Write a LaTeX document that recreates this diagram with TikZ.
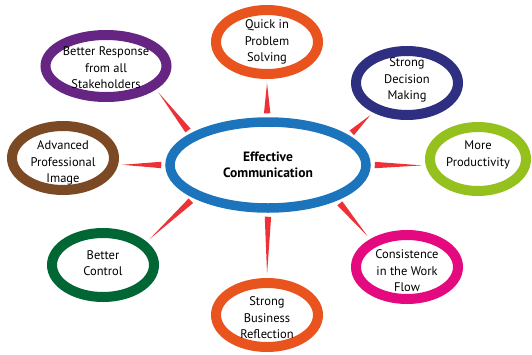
\documentclass[tikz,border=0pt]{standalone}
\usepackage{fontspec}
\setmainfont{PT Sans}
\usetikzlibrary{
  calc,
  shapes.geometric
}

\definecolor{ecblue}{HTML}{1C75BC}
\definecolor{ecorange}{HTML}{E9531E}
\definecolor{ecpurple}{HTML}{662483}
\definecolor{ecnavy}{HTML}{2E2F80}
\definecolor{ecbrown}{HTML}{7B4A24}
\definecolor{eclime}{HTML}{95C11F}
\definecolor{ecgreen}{HTML}{006633}
\definecolor{ecmagenta}{HTML}{E5097F}
\definecolor{ecred}{HTML}{EC3237}

% 中心から外側への細い楔
\newcommand{\spike}[2]{%
  \coordinate (sb) at ($(#1)!4pt!(#2)$);
  \coordinate (st) at ($(#2)!4pt!(#1)$);
  \fill[spike] ($(sb)!3.2pt!90:(st)$) -- (st) -- ($(sb)!3.2pt!-90:(st)$) -- cycle;
}

\begin{document}
\begin{tikzpicture}[x=1pt,y=-1pt,
  bubble/.style={ellipse,draw=#1,line width=10pt,
    minimum width=102pt,minimum height=64pt,inner sep=0pt},
  txt/.style={align=center,inner sep=0pt,
    font=\fontsize{12.5}{16.5}\selectfont},
  spike/.style={fill=ecred}
]
\useasboundingbox (0,0) rectangle (532,354);

%--------------------
% 中心
%--------------------
\node[bubble=ecblue,line width=9.5pt,minimum width=196pt,minimum height=86pt,
  label={[txt,font=\fontsize{13.5}{16.5}\selectfont\bfseries]center:Effective\\Communication}]
  (ec) at (268,165) {};

%--------------------
% 周囲
%--------------------
\node[bubble=ecorange,label={[txt]center:Quick in\\Problem\\Solving}]
  (quick) at (267,42) {};
\node[bubble=ecpurple,minimum width=121pt,minimum height=62pt,
  label={[txt,yshift=-2pt]center:Better Response\\from all\\Stakeholders}]
  (resp) at (106,66) {};
\node[bubble=ecnavy,label={[txt,yshift=3pt]center:Strong\\Decision\\Making}]
  (decision) at (407,83) {};
\node[bubble=eclime,minimum width=96pt,label={[txt,yshift=4pt]center:More\\Productivity}]
  (prod) at (478,159) {};
\node[bubble=ecbrown,label={[txt,yshift=-5pt]center:Advanced\\Professional\\Image}]
  (image) at (63,158) {};
\node[bubble=ecgreen,label={[txt,yshift=2pt]center:Better\\Control}]
  (control) at (103,265) {};
\node[bubble=ecorange,label={[txt,yshift=-3pt]center:Strong\\Business\\Reflection}]
  (business) at (267,315) {};
\node[bubble=ecmagenta,label={[txt,yshift=-4pt]center:Consistence\\in the Work\\Flow}]
  (flow) at (407,267) {};

%--------------------
% 楔
%--------------------
\spike{ec.91}{quick.270}
\spike{ec.158}{resp.335}
\spike{ec.180}{image.353}
\spike{ec.20}{decision.221}
\spike{ec.0}{prod.187}
\spike{ec.204}{control.28}
\spike{ec.270}{business.90}
\spike{ec.333}{flow.143}

\end{tikzpicture}
\end{document}
